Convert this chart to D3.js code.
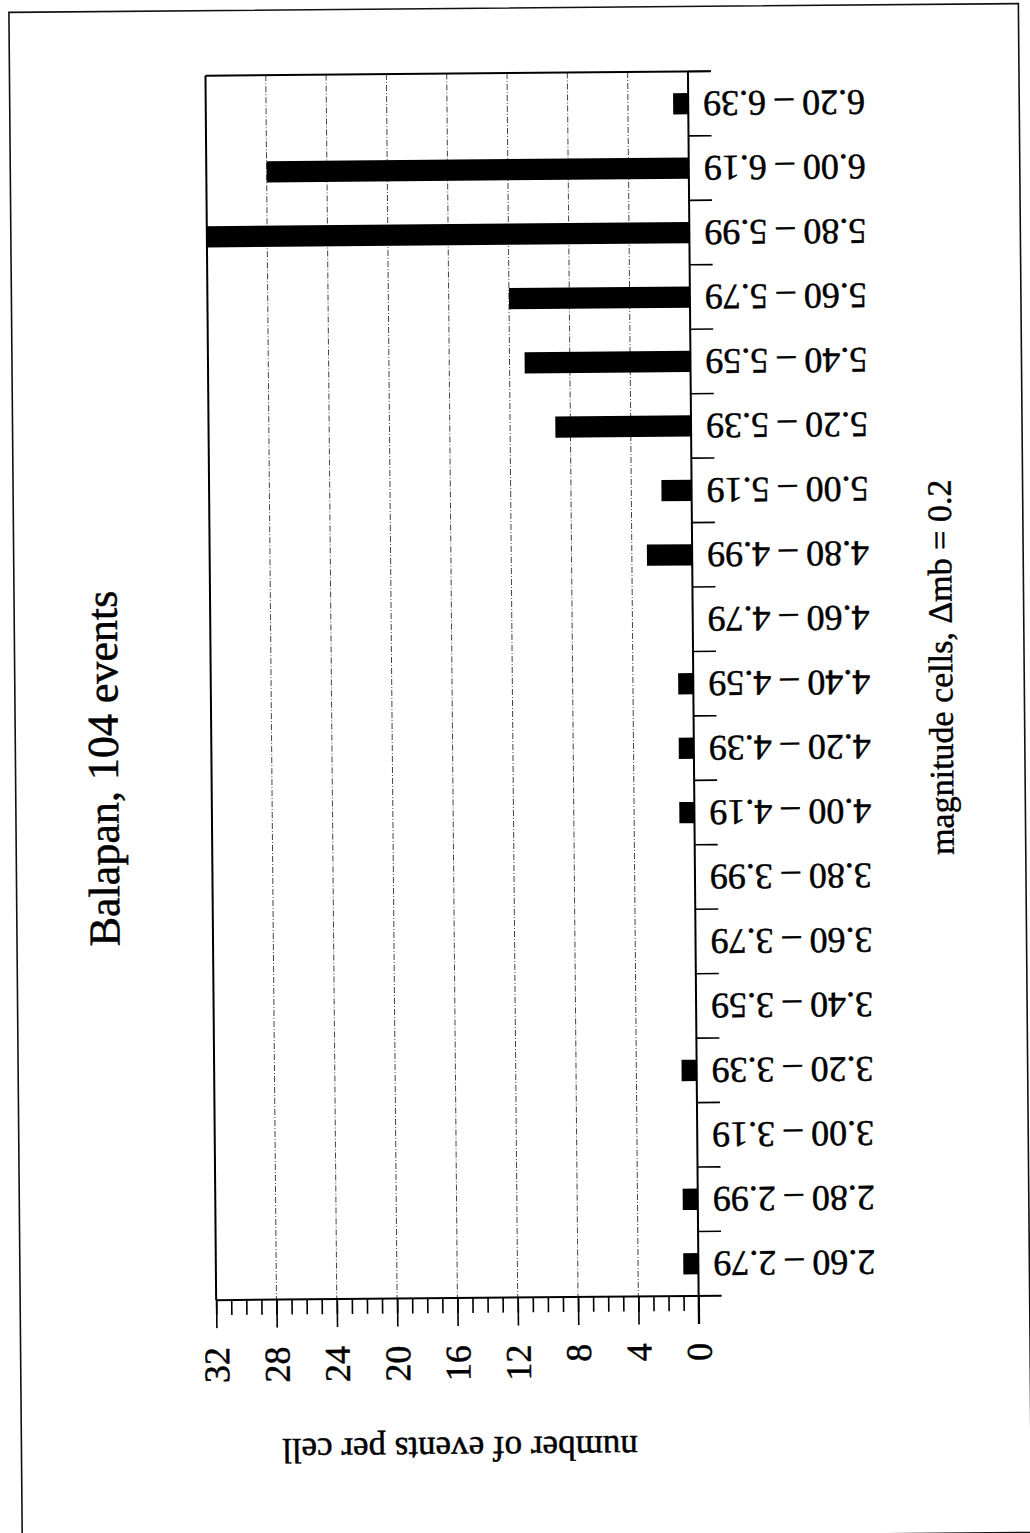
<!DOCTYPE html>
<html>
<head>
<meta charset="utf-8">
<script src="https://cdn.jsdelivr.net/npm/d3@7"></script>
<style>
  html, body { margin: 0; padding: 0; background: #fff; }
  svg { display: block; }
  text { stroke: #000; stroke-width: 0.5px; }
</style>
</head>
<body>
<svg id="chart" width="1030" height="1533"></svg>
<script>
// ---- data ----
const categories = ["2.60 – 2.79", "2.80 – 2.99", "3.00 – 3.19", "3.20 – 3.39", "3.40 – 3.59",
  "3.60 – 3.79", "3.80 – 3.99", "4.00 – 4.19", "4.20 – 4.39", "4.40 – 4.59", "4.60 – 4.79",
  "4.80 – 4.99", "5.00 – 5.19", "5.20 – 5.39", "5.40 – 5.59", "5.60 – 5.79", "5.80 – 5.99",
  "6.00 – 6.19", "6.20 – 6.39"];
const counts = [1, 1, 0, 1, 0, 0, 0, 1, 1, 1, 0, 3, 2, 9, 11, 12, 32, 28, 1];
const majorTicks = [0, 4, 8, 12, 16, 20, 24, 28, 32];
const minorTicks = d3.range(0, 33, 1);
const titleText = "Balapan, 104 events";
const xTitle = "number of events per cell";
const yTitle = "magnitude cells, \u0394mb = 0.2";

// ---- layout ----
const pL = 211.5, pR = 694, pT = 73, pB = 1297.5;
const font = "'Liberation Serif', 'Times New Roman', serif";

const svg = d3.select("#chart");
const g = svg.append("g").attr("transform", "rotate(-0.5 515 766)");

// page border
g.append("rect").attr("x", 15.5).attr("y", 8).attr("width", 1009.5).attr("height", 1529)
  .attr("fill", "none").attr("stroke", "#111").attr("stroke-width", 1.6);

const x = d3.scaleLinear().domain([0, 32]).range([pR, pL]);
const yOrder = categories.slice().reverse();
const y = d3.scaleBand().domain(yOrder).range([pT, pB]).paddingInner(0.67).paddingOuter(0.335);
const yEdge = d3.scaleBand().domain(yOrder).range([pT, pB]).padding(0);

// gridlines
g.append("g").selectAll("line").data(majorTicks.filter(d => d > 0 && d < 32)).join("line")
  .attr("x1", d => x(d)).attr("x2", d => x(d)).attr("y1", pT).attr("y2", pB)
  .attr("stroke", "#444").attr("stroke-width", 1).attr("stroke-dasharray", "6,2,1,2");

// bars
g.append("g").selectAll("rect").data(categories.map((c, i) => ({c, v: counts[i]})).filter(d => d.v > 0)).join("rect")
  .attr("x", d => x(d.v)).attr("width", d => x(0) - x(d.v))
  .attr("y", d => y(d.c)).attr("height", y.bandwidth())
  .attr("fill", "#000");

// frame: left and top
g.append("line").attr("x1", pL).attr("x2", pL).attr("y1", pT).attr("y2", pB)
  .attr("stroke", "#000").attr("stroke-width", 2);
g.append("line").attr("x1", pL).attr("x2", pR + 23).attr("y1", pT).attr("y2", pT)
  .attr("stroke", "#000").attr("stroke-width", 2);

// value axis (bottom)
const axMinor = g.append("g").attr("transform", `translate(0,${pB})`)
  .call(d3.axisBottom(x).tickValues(minorTicks).tickSize(15).tickFormat(""));
const axMajor = g.append("g").attr("transform", `translate(0,${pB})`)
  .call(d3.axisBottom(x).tickValues(majorTicks).tickSize(28).tickFormat(d3.format("d")));
[axMinor, axMajor].forEach(a => {
  a.select(".domain").remove();
  a.selectAll("line").attr("stroke", "#000").attr("stroke-width", 1.6);
});
axMajor.selectAll("text")
  .attr("font-family", font).attr("font-size", 36).attr("fill", "#000")
  .attr("text-anchor", "end").attr("y", 0).attr("dy", 0)
  .attr("transform", "translate(12,47) rotate(-90)");
g.append("line").attr("x1", pL).attr("x2", pR + 23).attr("y1", pB).attr("y2", pB)
  .attr("stroke", "#000").attr("stroke-width", 2);

// category axis (at zero)
g.append("line").attr("x1", pR).attr("x2", pR).attr("y1", pT).attr("y2", pB + 28)
  .attr("stroke", "#000").attr("stroke-width", 2);
g.append("g").selectAll("line").data(yOrder).join("line")
  .attr("x1", pR).attr("x2", pR + 23)
  .attr("y1", d => yEdge(d)).attr("y2", d => yEdge(d))
  .attr("stroke", "#000").attr("stroke-width", 1.6);
g.append("g").selectAll("text").data(yOrder).join("text")
  .attr("transform", d => `translate(871,${yEdge(d) + yEdge.bandwidth() / 2}) rotate(180)`)
  .attr("text-anchor", "start").attr("dy", "0.33em")
  .attr("font-family", font).attr("font-size", 36).attr("fill", "#000")
  .text(d => d);

// titles
g.append("text").attr("transform", "translate(118,765) rotate(-90)")
  .attr("text-anchor", "middle").attr("font-family", font).attr("font-size", 44).attr("fill", "#000")
  .text(titleText);
g.append("text").attr("transform", "translate(953,671) rotate(-90)")
  .attr("text-anchor", "middle").attr("font-family", font).attr("font-size", 34).attr("fill", "#000")
  .text(yTitle);
g.append("text").attr("transform", "translate(454,1437) rotate(180)")
  .attr("text-anchor", "middle").attr("font-family", font).attr("font-size", 35).attr("fill", "#000")
  .text(xTitle);
</script>
</body>
</html>
